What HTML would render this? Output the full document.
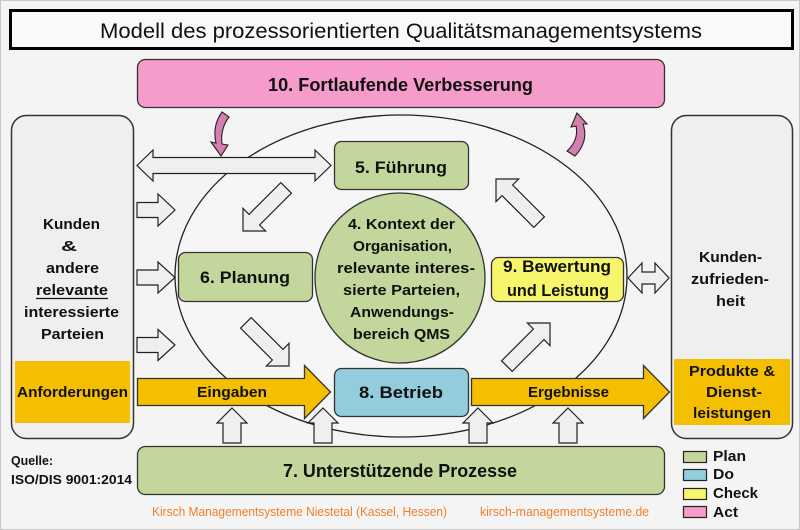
<!DOCTYPE html>
<html><head><meta charset="utf-8"><style>
html,body{margin:0;padding:0;background:#f4f4f4;}
svg{display:block;}
text{font-family:"Liberation Sans",sans-serif;fill:#111;}
.b{font-weight:bold;}
</style></head><body>
<svg width="800" height="530" viewBox="0 0 800 530" xmlns="http://www.w3.org/2000/svg">
<rect x="0.5" y="0.5" width="799" height="529" fill="#f4f4f4" stroke="#c8c8c8" stroke-width="1"/>
<!-- title -->
<rect x="10.5" y="10.5" width="782" height="38" fill="#f9f9f9" stroke="#000" stroke-width="3"/>
<text x="100" y="38" font-size="21" textLength="602" lengthAdjust="spacingAndGlyphs">Modell des prozessorientierten Qualitätsmanagementsystems</text>
<!-- pink box -->
<rect x="137.5" y="59.5" width="527" height="48" rx="8" fill="#f59ccb" stroke="#333" stroke-width="1.3"/>
<text class="b" x="268" y="91" font-size="18" textLength="265" lengthAdjust="spacingAndGlyphs">10. Fortlaufende Verbesserung</text>
<!-- ellipse -->
<ellipse cx="401" cy="276" rx="226" ry="161" fill="#f6f6f6" stroke="#222" stroke-width="1.3"/>
<!-- left box -->
<rect x="11.5" y="115.5" width="122" height="323" rx="15" fill="#efefef" stroke="#333" stroke-width="1.5"/>
<rect x="15" y="361" width="115" height="62" fill="#f4bf00"/>
<text class="b" x="43" y="229" font-size="15" textLength="57" lengthAdjust="spacingAndGlyphs">Kunden</text>
<text class="b" x="61" y="251" font-size="15" textLength="16" lengthAdjust="spacingAndGlyphs">&amp;</text>
<text class="b" x="46" y="273" font-size="15" textLength="53" lengthAdjust="spacingAndGlyphs">andere</text>
<text class="b" x="36" y="295" font-size="15" textLength="72" lengthAdjust="spacingAndGlyphs">relevante</text>
<line x1="36" y1="298.5" x2="108" y2="298.5" stroke="#111" stroke-width="1.3"/>
<text class="b" x="24" y="317" font-size="15" textLength="95" lengthAdjust="spacingAndGlyphs">interessierte</text>
<text class="b" x="41" y="339" font-size="15" textLength="63" lengthAdjust="spacingAndGlyphs">Parteien</text>
<text class="b" x="17" y="397" font-size="15" textLength="111" lengthAdjust="spacingAndGlyphs">Anforderungen</text>
<!-- right box -->
<rect x="671.5" y="115.5" width="121" height="323" rx="15" fill="#efefef" stroke="#333" stroke-width="1.5"/>
<rect x="674" y="359" width="116" height="66" fill="#f4bf00"/>
<text class="b" x="699" y="262" font-size="15" textLength="63" lengthAdjust="spacingAndGlyphs">Kunden-</text>
<text class="b" x="691" y="284" font-size="15" textLength="78" lengthAdjust="spacingAndGlyphs">zufrieden-</text>
<text class="b" x="716" y="306" font-size="15" textLength="29" lengthAdjust="spacingAndGlyphs">heit</text>
<text class="b" x="689" y="376" font-size="15" textLength="86" lengthAdjust="spacingAndGlyphs">Produkte &amp;</text>
<text class="b" x="706" y="397" font-size="15" textLength="56" lengthAdjust="spacingAndGlyphs">Dienst-</text>
<text class="b" x="693" y="418" font-size="15" textLength="78" lengthAdjust="spacingAndGlyphs">leistungen</text>
<!-- green boxes -->
<rect x="334.5" y="141.5" width="134" height="48" rx="7" fill="#c3d69b" stroke="#333" stroke-width="1.3"/>
<text class="b" x="355" y="173" font-size="17" textLength="92" lengthAdjust="spacingAndGlyphs">5. Führung</text>
<rect x="178.5" y="252.5" width="134" height="49" rx="7" fill="#c3d69b" stroke="#333" stroke-width="1.3"/>
<text class="b" x="200" y="283" font-size="17" textLength="90" lengthAdjust="spacingAndGlyphs">6. Planung</text>
<circle cx="400" cy="278" r="85" fill="#c3d69b" stroke="#333" stroke-width="1.3"/>
<text class="b" x="348" y="229" font-size="15" textLength="107" lengthAdjust="spacingAndGlyphs">4. Kontext der</text>
<text class="b" x="353" y="251" font-size="15" textLength="99" lengthAdjust="spacingAndGlyphs">Organisation,</text>
<text class="b" x="337" y="273" font-size="15" textLength="138" lengthAdjust="spacingAndGlyphs">relevante interes-</text>
<text class="b" x="343" y="295" font-size="15" textLength="117" lengthAdjust="spacingAndGlyphs">sierte Parteien,</text>
<text class="b" x="350" y="317" font-size="15" textLength="104" lengthAdjust="spacingAndGlyphs">Anwendungs-</text>
<text class="b" x="353" y="339" font-size="15" textLength="97" lengthAdjust="spacingAndGlyphs">bereich QMS</text>
<rect x="491.5" y="257.5" width="132" height="44" rx="7" fill="#f6f56c" stroke="#333" stroke-width="1.3"/>
<text class="b" x="503" y="272" font-size="17" textLength="108" lengthAdjust="spacingAndGlyphs">9. Bewertung</text>
<text class="b" x="507" y="296" font-size="17" textLength="102" lengthAdjust="spacingAndGlyphs">und Leistung</text>
<rect x="334.5" y="368.5" width="134" height="48" rx="7" fill="#93cddd" stroke="#333" stroke-width="1.3"/>
<text class="b" x="359" y="398" font-size="17" textLength="84" lengthAdjust="spacingAndGlyphs">8. Betrieb</text>
<rect x="137.5" y="446.5" width="527" height="48" rx="8" fill="#c3d69b" stroke="#333" stroke-width="1.3"/>
<text class="b" x="283" y="477" font-size="18" textLength="234" lengthAdjust="spacingAndGlyphs">7. Unterstützende Prozesse</text>
<!-- orange arrows -->
<polygon points="137.5,378.5 304.5,378.5 304.5,365.5 330.5,392 304.5,418.5 304.5,405.5 137.5,405.5" fill="#f4bf00" stroke="#333" stroke-width="1.3"/>
<text class="b" x="197" y="397" font-size="15" textLength="70" lengthAdjust="spacingAndGlyphs">Eingaben</text>
<polygon points="471.5,378.5 643.5,378.5 643.5,365.5 669.5,392 643.5,418.5 643.5,405.5 471.5,405.5" fill="#f4bf00" stroke="#333" stroke-width="1.3"/>
<text class="b" x="528" y="397" font-size="15" textLength="81" lengthAdjust="spacingAndGlyphs">Ergebnisse</text>
<!-- white block arrows -->
<g fill="#efefef" stroke="#222" stroke-width="1.2">
<!-- top double arrow -->
<polygon points="137,165.5 153,150 153,157.5 315,157.5 315,150 331,165.5 315,181 315,173.5 153,173.5 153,181"/>
<!-- right small double arrow -->
<polygon points="628,278 642,263 642,272 655,272 655,263 669,278 655,293 655,284 642,284 642,293"/>
<!-- left right-arrows -->
<polygon points="137,202.5 158,202.5 158,194 175,210 158,226 158,217.5 137,217.5"/>
<polygon points="137,270 158,270 158,262 175,277.5 158,293 158,285 137,285"/>
<polygon points="137,337.5 158,337.5 158,329.5 175,345 158,360.5 158,352.5 137,352.5"/>
<!-- up arrows -->
<polygon points="232,408 247,423 241,423 241,443 223,443 223,423 217,423"/>
<polygon points="323,408 338,423 332,423 332,443 314,443 314,423 308,423"/>
<polygon points="478,408 493,423 487,423 487,443 469,443 469,423 463,423"/>
<polygon points="568,408 583,423 577,423 577,443 559,443 559,423 553,423"/>
<!-- diagonal arrows: tip at origin pointing +x -->
<polygon transform="translate(243,231) rotate(135)" points="0,0 -16,-16 -16,-7.5 -61,-7.5 -61,7.5 -16,7.5 -16,16"/>
<polygon transform="translate(289,366) rotate(45)" points="0,0 -16,-16 -16,-7.5 -61,-7.5 -61,7.5 -16,7.5 -16,16"/>
<polygon transform="translate(550,323) rotate(-45)" points="0,0 -16,-16 -16,-7.5 -61,-7.5 -61,7.5 -16,7.5 -16,16"/>
<polygon transform="translate(496,179) rotate(-135)" points="0,0 -16,-16 -16,-7.5 -61,-7.5 -61,7.5 -16,7.5 -16,16"/>
</g>
<!-- pink curved arrows -->
<path d="M222 112 L229 117 Q220 129 222 144 L228 145 L221 156 L211 142 L216 143 Q212 126 222 112 Z" fill="#d47fb0" stroke="#222" stroke-width="1.1"/>
<path d="M577 113 L587 124 L583 124 Q589 141 575 156 L567 151 Q579 140 576 126 L571 127 Z" fill="#d47fb0" stroke="#222" stroke-width="1.1"/>
<!-- legend -->
<rect x="683.5" y="451.5" width="23" height="11" fill="#c3d69b" stroke="#222" stroke-width="1.2"/>
<rect x="683.5" y="469.5" width="23" height="11" fill="#93cddd" stroke="#222" stroke-width="1.2"/>
<rect x="683.5" y="488.5" width="23" height="11" fill="#f6f56c" stroke="#222" stroke-width="1.2"/>
<rect x="683.5" y="506.5" width="23" height="11" fill="#f59ccb" stroke="#222" stroke-width="1.2"/>
<text class="b" x="713" y="461" font-size="15" textLength="33" lengthAdjust="spacingAndGlyphs">Plan</text>
<text class="b" x="713" y="479" font-size="15" textLength="21" lengthAdjust="spacingAndGlyphs">Do</text>
<text class="b" x="713" y="498" font-size="15" textLength="45" lengthAdjust="spacingAndGlyphs">Check</text>
<text class="b" x="713" y="517" font-size="15" textLength="25" lengthAdjust="spacingAndGlyphs">Act</text>
<!-- source -->
<text class="b" x="11" y="465" font-size="13" textLength="42" lengthAdjust="spacingAndGlyphs">Quelle:</text>
<text class="b" x="11" y="484" font-size="13" textLength="121" lengthAdjust="spacingAndGlyphs">ISO/DIS 9001:2014</text>
<!-- footer -->
<text x="152" y="516" font-size="12.5" fill="#ef7f2c" style="fill:#ef7f2c" textLength="295" lengthAdjust="spacingAndGlyphs">Kirsch Managementsysteme Niestetal (Kassel, Hessen)</text>
<text x="480" y="516" font-size="12.5" fill="#ef7f2c" style="fill:#ef7f2c" textLength="169" lengthAdjust="spacingAndGlyphs">kirsch-managementsysteme.de</text>
</svg>
</body></html>
